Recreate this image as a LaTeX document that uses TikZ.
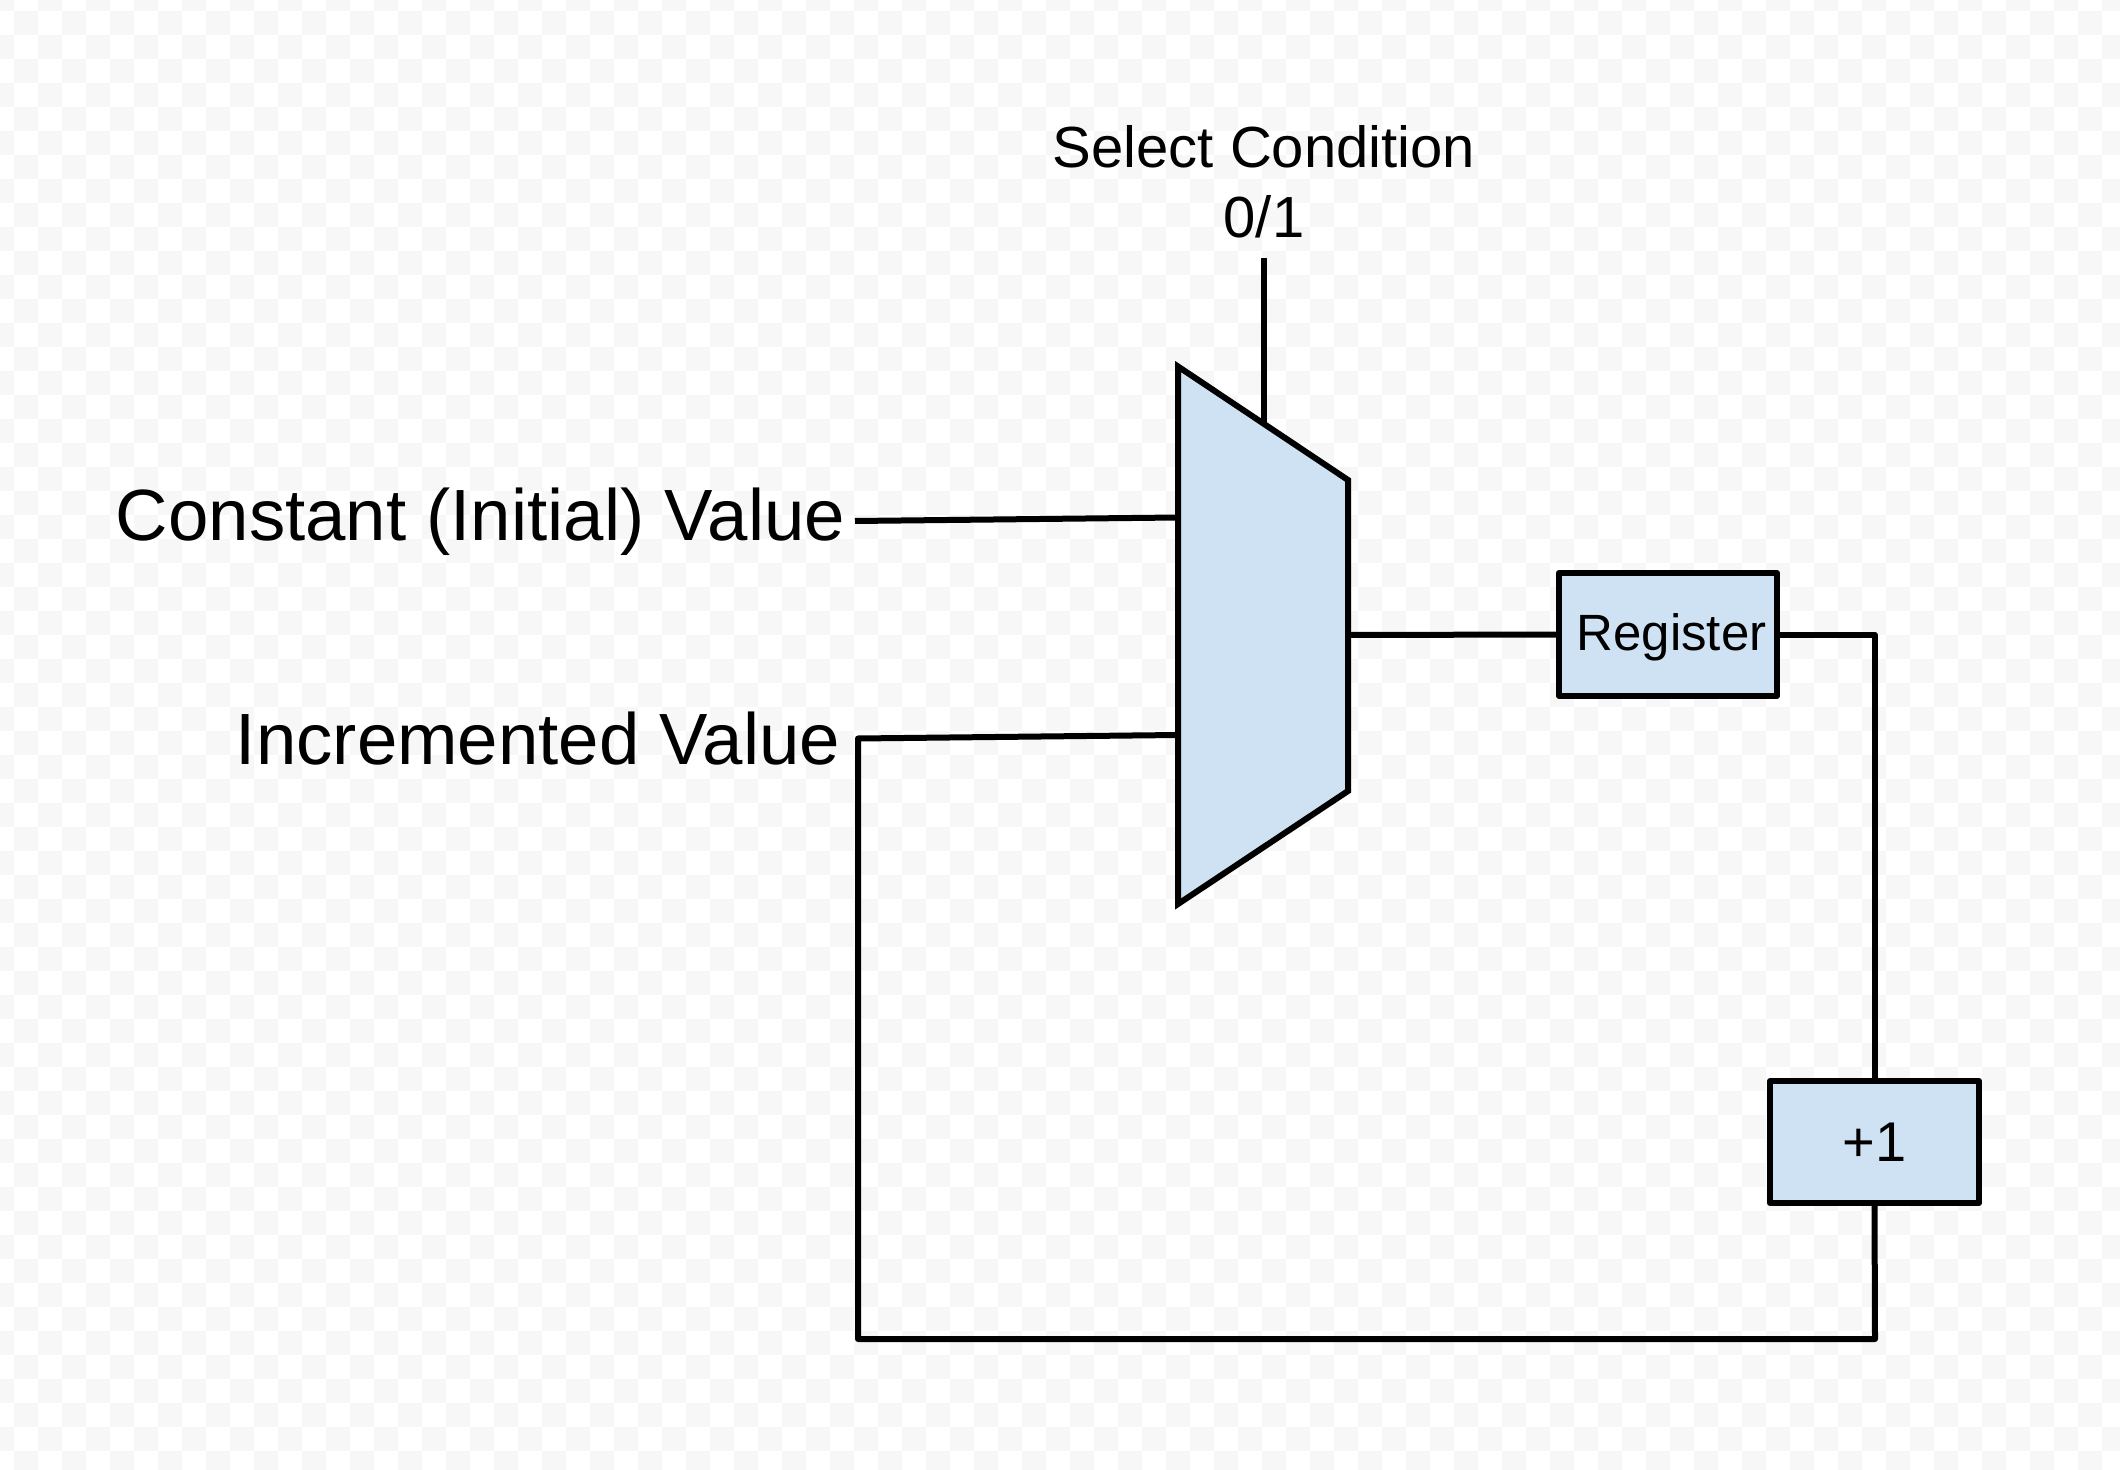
\documentclass[tikz,border=0pt]{standalone}
\usepackage{fontspec}
\setmainfont{Liberation Sans}
\definecolor{boxblue}{HTML}{CFE2F3}
\definecolor{checkgray}{HTML}{F7F7F7}
\tikzset{
	wire/.style = {line width = 3pt, line join = round},
	block/.style = {draw, fill = boxblue, line width = 3pt, line join = round, inner sep = 0pt, outer sep = 0pt},
	biglabel/.style = {inner sep = 0pt, outer sep = 0pt, font = \fontsize{36.3}{43}\selectfont}
}
\begin{document}
\begin{tikzpicture}[x = 0.5pt, y = -0.5pt]
		\useasboundingbox (0, 0) rectangle (2120, 1470);
		\begin{scope}
		\clip (0, 0) rectangle (2120, 1470);
		\fill[white] (0, 0) rectangle (2120, 1470);
		\foreach \i in {-1, ..., 87}{
			\foreach \j in {-1, ..., 60}{
				\ifodd\numexpr\i + \j\relax\else
				\fill[checkgray] ({14 + 24 * \i}, {11 + 24 * \j}) rectangle ++(24, 24);
				\fi}}
		\end{scope}
		\foreach \name/\x/\y in {muxtl/1178/366.5, muxtr/1348/480, muxbr/1348/791, muxbl/1178/904, muxsel/1264/424, muxout/1348/635,
			muxa/1178/517.5, muxb/1178/735, constin/855/521, incin/858/738.5, loopr/1875/1339, loopl/858/1339}{
			\coordinate (\name) at (\x, \y);}
		\node[biglabel, anchor = base east] (constlabel) at (845, 540.5) {Constant (Initial) Value};
		\node[biglabel, anchor = base east] (inclabel) at (840, 764) {Incremented Value};
		\node[inner xsep = 0pt, inner ysep = 10pt, outer sep = 0pt, align = center, anchor = south, font = \fontsize{29}{35}\selectfont] (sellabel) at (1264, 258) {Select Condition\\0/1};
		\node[block, minimum width = 109pt, minimum height = 61.5pt, text height = 16pt, text depth = 0pt, font = \fontsize{25.5}{30}\selectfont] (register) at (1668, 634.5) {\hspace*{3.5pt}Register};
		\node[block, minimum width = 104.5pt, minimum height = 61pt, text height = 19.7pt, text depth = 0pt, font = \fontsize{28}{34}\selectfont] (plusone) at (1874.5, 1142) {+1};
		\draw[wire] (sellabel.south) -- (muxsel);
		\draw[wire] (constin) -- (muxa);
		\draw[wire] (muxout) -- (register.west);
		\draw[wire] (register.east) -| (plusone.north);
		\draw[wire] (plusone.south) -- (loopr) -- (loopl) -- (incin) -- (muxb);
		\draw[block, line join = miter] (muxtl) -- (muxtr) -- (muxbr) -- (muxbl) -- cycle;
		\end{tikzpicture}
\end{document}
